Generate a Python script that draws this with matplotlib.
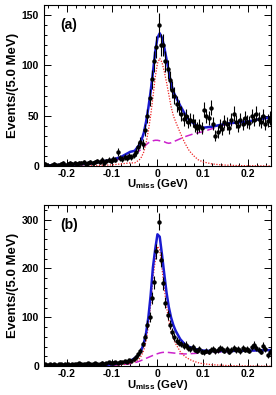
import numpy as np
import matplotlib
matplotlib.use("Agg")
import matplotlib.pyplot as plt
from matplotlib.ticker import MultipleLocator

plt.rcParams['font.family'] = ['Liberation Sans', 'DejaVu Sans']
plt.rcParams['font.weight'] = 'bold'
plt.rcParams['mathtext.fontset'] = 'custom'
plt.rcParams['mathtext.rm'] = 'Liberation Sans:bold'
plt.rcParams['mathtext.it'] = 'Liberation Sans:bold'
plt.rcParams['mathtext.bf'] = 'Liberation Sans:bold'

# bin centres, 5 MeV bins from -0.25 to 0.25 GeV
bin_centers = np.arange(-0.2475, 0.25, 0.005)

counts_a = [2, 1, 0, 1, 2, 1, 1, 2, 3, 1,
            2, 3, 2, 3, 2, 3, 3, 4, 2, 3,
            4, 3, 4, 5, 4, 6, 3, 5, 6, 5,
            7, 6, 14, 8, 7, 9, 8, 10, 9, 11,
            14, 19, 24, 22, 36, 50, 68, 86, 104, 118,
            140, 120, 120, 104, 96, 85, 76, 70, 62, 58,
            52, 47, 50, 44, 46, 45, 40, 38, 40, 38,
            56, 50, 48, 58, 42, 30, 34, 40, 37, 44,
            42, 38, 46, 52, 44, 40, 46, 42, 48, 44,
            43, 50, 46, 52, 47, 44, 50, 42, 45, 48]

counts_b = [4, 3, 5, 3, 4, 3, 5, 4, 3, 5,
            4, 3, 5, 4, 4, 6, 4, 5, 4, 6,
            5, 4, 6, 5, 5, 7, 5, 6, 8, 6,
            7, 8, 6, 9, 8, 10, 9, 12, 11, 14,
            18, 24, 32, 45, 60, 85, 100, 140, 172, 235,
            296, 218, 170, 130, 105, 85, 70, 60, 52, 48,
            45, 42, 44, 38, 36, 40, 34, 32, 35, 30,
            28, 32, 30, 34, 36, 31, 33, 38, 35, 32,
            36, 30, 34, 37, 33, 35, 31, 38, 34, 36,
            32, 40, 44, 38, 34, 30, 42, 36, 22, 30]

# fit curves
fit_x = [-0.25, -0.2, -0.15, -0.1, -0.08, -0.06, -0.05, -0.04, -0.035, -0.03,
         -0.025, -0.02, -0.015, -0.01, -0.005, 0.0, 0.005, 0.01, 0.015, 0.02,
         0.025, 0.03, 0.035, 0.04, 0.05, 0.06, 0.07, 0.08, 0.09, 0.1,
         0.12, 0.14, 0.16, 0.18, 0.2, 0.22, 0.25]

total_a = [0.5, 1, 2.2, 6, 9, 14, 15, 21, 26, 33,
           44, 58, 74, 93, 113.5, 127.5, 132, 127.5, 118, 106,
           93.5, 82, 74, 69, 60, 52, 45.5, 42, 39, 38,
           39, 41, 42.6, 43.3, 44.2, 46.1, 48.5]
signal_a = [0, 0, 0.2, 1, 2, 3, 3, 6, 9, 14,
            23, 35, 50, 68, 88, 102, 107, 103, 94, 83,
            71, 59, 50, 44, 33, 23, 15, 10, 6, 4,
            2, 1, 0.6, 0.3, 0.2, 0.1, 0]
bkg_a = [0.5, 1, 2, 5, 7, 10, 12, 15, 17, 19,
         21, 23, 24, 25, 25.5, 25.5, 25, 24.5, 24, 23,
         22.5, 23, 24, 25, 27, 29, 30.5, 32, 33, 34,
         37, 40, 42, 43, 44, 46, 48]

total_b = [0.3, 0.5, 1.3, 3.5, 6, 11, 16, 25, 34, 47,
           68, 100, 145, 202, 239, 270, 265, 228, 188.5, 150.5,
           121, 99.5, 84, 72.5, 55.5, 45, 39.5, 36, 33.5, 32,
           31, 31, 31, 31.6, 31.9, 32.2, 33]
signal_b = [0, 0, 0.3, 1.5, 3, 6, 9, 15, 22, 33,
            52, 82, 125, 180, 215, 245, 238, 200, 160, 122,
            93, 72, 57, 46, 30, 20, 14, 10, 7, 5,
            3, 2, 1, 0.6, 0.4, 0.2, 0]
bkg_b = [0.3, 0.5, 1, 2, 3, 5, 7, 10, 12, 14,
         16, 18, 20, 22, 24, 25.5, 27, 28, 28.5, 28.5,
         28, 27.5, 27, 26.5, 25.5, 25, 25.5, 26, 26.5, 27,
         28, 29, 30, 31, 31.5, 32, 33]

panels = [
    ("(a)", counts_a, total_a, signal_a, bkg_a, 160, 50, 10),
    ("(b)", counts_b, total_b, signal_b, bkg_b, 330, 100, 20),
]

fig = plt.figure(figsize=(2.76, 3.95), dpi=100)
axes_pos = [[0.159, 0.580, 0.823, 0.407], [0.159, 0.073, 0.823, 0.408]]

for pos, (tag, counts, total, signal, bkg, ymax, ymaj, ymin) in zip(axes_pos, panels):
    ax = fig.add_axes(pos)
    counts = np.array(counts, dtype=float)
    ax.plot(fit_x, bkg, color='#cc22cc', lw=1.1, ls=(0, (5, 2.5)), zorder=2)
    ax.plot(fit_x, signal, color='#ee2222', lw=0.9, ls=(0, (1, 1.2)), zorder=2)
    ax.plot(fit_x, total, color='#1a1ad0', lw=1.8, zorder=3)
    ax.errorbar(bin_centers, counts, yerr=np.sqrt(counts), fmt='o', color='black',
                ms=2.2, elinewidth=0.8, capsize=0, zorder=4)
    ax.set_xlim(-0.25, 0.25)
    ax.set_ylim(0, ymax)
    ax.xaxis.set_major_locator(MultipleLocator(0.1))
    ax.xaxis.set_minor_locator(MultipleLocator(0.02))
    ax.yaxis.set_major_locator(MultipleLocator(ymaj))
    ax.yaxis.set_minor_locator(MultipleLocator(ymin))
    ax.tick_params(which='both', direction='in', top=True, right=True, labelsize=7.5, width=0.7)
    ax.tick_params(which='major', length=5)
    ax.tick_params(which='minor', length=2.5)
    ax.tick_params(axis='x', pad=2)
    ax.set_xticklabels([f"{t:g}" if abs(t) > 1e-9 else "0" for t in ax.get_xticks()])
    for lab in ax.get_xticklabels() + ax.get_yticklabels():
        lab.set_fontweight('bold')
    for sp in ax.spines.values():
        sp.set_linewidth(0.8)
    ax.set_xlabel(r'$\mathrm{U_{miss}}$ (GeV)', fontsize=8.2, fontweight='bold', labelpad=-1)
    ax.set_ylabel('Events/(5.0 MeV)', fontsize=9.5, fontweight='bold', labelpad=2)
    ax.text(0.07, 0.85, tag, transform=ax.transAxes, fontsize=10, fontweight='bold')

fig.savefig("out.png", dpi=100)
